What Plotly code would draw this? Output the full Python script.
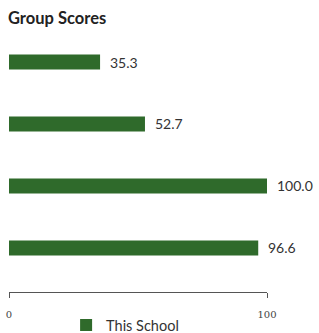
import plotly.graph_objects as go

categories = ["Group A", "Group B", "Group C", "Group D"]
scores = [35.3, 52.7, 100.0, 96.6]
tick_vals = [0, 100]
tick_text = ["0", "100"]

green = "#2f6a2b"

fig = go.Figure()
fig.add_trace(go.Bar(
    x=scores, y=categories, orientation="h",
    marker=dict(color=green, line=dict(width=0)),
    width=0.24, name="This School", showlegend=True,
))

for c, v in zip(categories, scores):
    fig.add_annotation(x=v, y=c, text=f"{v:.1f}", xanchor="left", yanchor="middle",
                       xshift=8, showarrow=False,
                       font=dict(family="Lato, Roboto, sans-serif", size=14, color="#333"))

fig.update_layout(
    width=319, height=333,
    margin=dict(l=9, r=52, t=31, b=41, autoexpand=False),
    paper_bgcolor="white", plot_bgcolor="white",
    title=dict(text="<b>Group Scores</b>", x=0.025, xanchor="left", y=0.946, yanchor="middle",
               font=dict(family="Lato, sans-serif", size=16.5, color="#222")),
    xaxis=dict(range=[0, 100], tickvals=tick_vals, ticktext=tick_text,
               showgrid=False, zeroline=False, showline=True, linecolor="#555", linewidth=1,
               ticks="outside", ticklen=5, tickcolor="#555", ticklabelstandoff=8,
               tickfont=dict(family="DejaVu Serif, serif", size=10, color="#444")),
    xaxis2=dict(range=[0, 100], tickvals=tick_vals, overlaying="x", side="bottom",
                anchor="y", showgrid=False, zeroline=False, showticklabels=False,
                ticks="inside", ticklen=4, tickcolor="#555"),
    yaxis=dict(range=[3.71, -0.5], showticklabels=False, showgrid=False, zeroline=False,
               showline=False, ticks=""),
    legend=dict(orientation="h", x=0.45, xanchor="center", y=-0.127, yanchor="middle",
                font=dict(family="Lato, sans-serif", size=14.5, color="#333")),
)
fig.add_trace(go.Scatter(x=[0], y=[categories[0]], xaxis="x2", mode="markers",
                         marker=dict(opacity=0), showlegend=False, hoverinfo="skip"))

fig.write_html("out.html", config={"displayModeBar": False},
               post_script="document.body.style.margin='0';")
